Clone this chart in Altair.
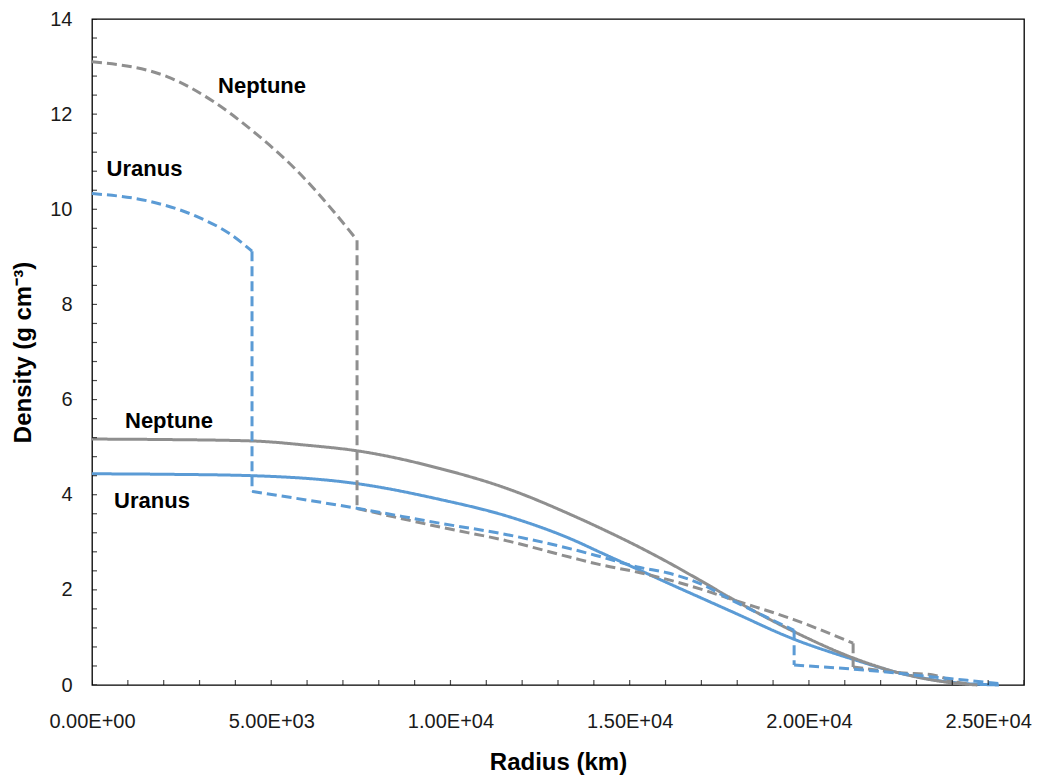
import altair as alt
import pandas as pd

# ---- data ----
# Neptune, solid (gray)
nep_solid_r = [0, 2000, 4464, 6000, 7422, 9710, 11579, 13421, 14174, 15290, 16044, 16964, 17885, 19559, 21233, 22545, 23940, 24700]
nep_solid_d = [5.17, 5.16, 5.13, 5.04, 4.92, 4.55, 4.13, 3.56, 3.30, 2.89, 2.59, 2.20, 1.80, 1.13, 0.57, 0.25, 0.05, 0.0]

# Uranus, solid (blue)
ura_solid_r = [0, 2000, 4464, 7422, 9710, 11579, 13421, 14174, 15290, 16044, 16964, 17885, 19559, 21233, 22545, 23940, 25300]
ura_solid_d = [4.44, 4.43, 4.40, 4.23, 3.90, 3.55, 3.05, 2.79, 2.41, 2.15, 1.84, 1.53, 0.97, 0.54, 0.25, 0.06, 0.0]

# Uranus, dashed (blue)
ura_dash_r = [0, 1528, 2917, 3833, 4464, 4464, 7422, 9710, 11579, 13421, 14174, 15290, 16044, 16964, 17885, 19587, 19587, 21624, 23465, 24414, 25391]
ura_dash_d = [10.33, 10.18, 9.85, 9.49, 9.12, 4.07, 3.71, 3.40, 3.16, 2.85, 2.70, 2.47, 2.36, 2.13, 1.77, 1.15, 0.42, 0.31, 0.17, 0.10, 0.02]

# Neptune, dashed (gray)
nep_dash_r = [0, 2093, 3376, 4492, 5720, 6724, 7394, 7394, 9710, 11579, 13421, 14174, 15290, 16044, 16964, 17885, 19559, 21233, 21233, 22545, 23465, 24135, 24500]
nep_dash_d = [13.10, 12.79, 12.27, 11.64, 10.81, 9.97, 9.35, 3.71, 3.32, 3.03, 2.67, 2.53, 2.36, 2.22, 2.02, 1.79, 1.38, 0.88, 0.38, 0.26, 0.21, 0.06, 0.02]

# annotations
label_text = ["Neptune", "Uranus", "Neptune", "Uranus"]
label_r = [4743, 1465, 2148, 1674]
label_d = [12.60, 10.85, 5.55, 3.86]

# axes
x_tick_values = [0, 5000, 10000, 15000, 20000, 25000]
x_tick_labels = ["0.00E+00", "5.00E+03", "1.00E+04", "1.50E+04", "2.00E+04", "2.50E+04"]
y_tick_values = [0, 2, 4, 6, 8, 10, 12, 14]
x_minor = list(range(0, 26001, 1000))
y_minor = [round(i * 0.4, 1) for i in range(0, 36)]

GRAY = "#8f8f8f"
BLUE = "#5b9bd5"

label_expr = ""
for v, t in zip(x_tick_values, x_tick_labels):
    label_expr += f"datum.value == {v} ? '{t}' : "
label_expr += "''"

xs = alt.Scale(domain=[0, 26000], nice=False, zero=False)
ys = alt.Scale(domain=[0, 14], nice=False, zero=False)

x_axis = alt.Axis(values=x_tick_values, labelExpr=label_expr, title="Radius (km)",
                  ticks=False, tickSize=0, grid=False, domain=False,
                  labelFontSize=20, labelPadding=26, labelColor="#1a1a1a",
                  labelFont="Liberation Sans", labelOverlap=False, labelFlush=False,
                  titleFont="Liberation Sans", titleFontSize=24, titleFontWeight="bold",
                  titleColor="#000000", titleBaseline="alphabetic", titleY=84)
y_axis = alt.Axis(values=y_tick_values, title="Density (g cm⁻³)",
                  ticks=False, tickSize=0, grid=False, domain=False,
                  labelFontSize=20, labelPadding=20, labelColor="#1a1a1a",
                  labelFont="Liberation Sans", labelFlush=False,
                  titleFont="Liberation Sans", titleFontSize=24, titleFontWeight="bold",
                  titleColor="#000000", titleBaseline="alphabetic",
                  titleX=-62, titleY=333, titleAngle=270)


def X(field):
    return alt.X(field, scale=xs, axis=x_axis)


def Y(field):
    return alt.Y(field, scale=ys, axis=y_axis)


def series(rs, ds, color, dash):
    # split the profile into pieces at its vertical steps, so each smooth
    # piece is drawn as a smooth curve and each step stays straight
    rows = []
    seg = 0
    for k in range(len(rs)):
        if k > 0 and rs[k] == rs[k - 1]:
            rows.append({"r": rs[k - 1], "d": ds[k - 1], "s": seg + 1, "i": 0})
            rows.append({"r": rs[k], "d": ds[k], "s": seg + 1, "i": 1})
            seg += 2
        rows.append({"r": rs[k], "d": ds[k], "s": seg, "i": k + 10})
    df = pd.DataFrame(rows)
    mk = alt.Chart(df).mark_line(color=color, strokeWidth=3, interpolate="monotone",
                                 strokeDash=dash if dash else [1, 0])
    return mk.encode(x=X("r:Q"), y=Y("d:Q"), detail="s:N", order="i:Q")


l_ura_solid = series(ura_solid_r, ura_solid_d, BLUE, None)
l_nep_solid = series(nep_solid_r, nep_solid_d, GRAY, None)
l_ura_dash = series(ura_dash_r, ura_dash_d, BLUE, [10, 5])
l_nep_dash = series(nep_dash_r, nep_dash_d, GRAY, [10, 5])

labels = alt.Chart(pd.DataFrame({"t": label_text, "r": label_r, "d": label_d})).mark_text(
    font="Liberation Sans", fontSize=22, fontWeight="bold", color="#000000",
    align="center", baseline="middle"
).encode(x=X("r:Q"), y=Y("d:Q"), text="t:N")

xt = alt.Chart(pd.DataFrame({"r": x_minor, "z": [0] * len(x_minor)})).mark_tick(
    orient="vertical", size=10, thickness=1.2, color="#000000", clip=True
).encode(x=X("r:Q"), y=Y("z:Q"))

yt = alt.Chart(pd.DataFrame({"d": y_minor, "z": [0] * len(y_minor)})).mark_tick(
    orient="horizontal", size=10, thickness=1.2, color="#000000", clip=True
).encode(y=Y("d:Q"), x=X("z:Q"))

chart = alt.layer(
    l_ura_solid, l_nep_solid, l_nep_dash, l_ura_dash, labels, xt, yt
).properties(
    width=932, height=666,
    autosize=alt.AutoSizeParams(type="none"),
    padding={"left": 84, "top": 11, "right": 10, "bottom": 92},
).configure(
    background="white",
    view=alt.ViewConfig(stroke="#000000", strokeWidth=1.3),
)

chart.save("out.html", embed_options={"renderer": "svg", "actions": False})
